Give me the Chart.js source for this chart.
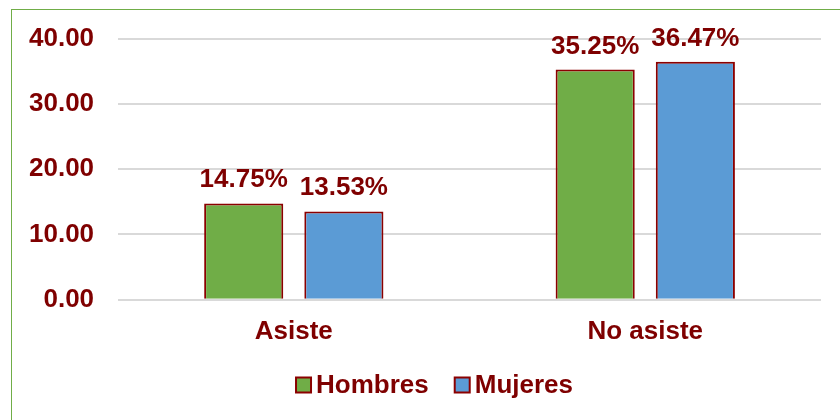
<!DOCTYPE html>
<html>
<head>
<meta charset="utf-8">
<script src="https://cdn.jsdelivr.net/npm/chart.js@4.4.1/dist/chart.umd.min.js"></script>
<style>
  html,body{margin:0;padding:0;background:#fff;overflow:hidden;width:840px;height:420px;}
  #frame{position:absolute;left:11px;top:9px;width:900px;height:500px;border-left:1px solid #70AD47;border-top:1px solid #70AD47;z-index:2;pointer-events:none;}
  #wrap{position:absolute;left:5px;top:-1px;width:853px;height:421px;z-index:1;}
</style>
</head>
<body>
<div id="frame"></div>
<div id="wrap"><canvas id="chart" width="853" height="421"></canvas></div>
<script>
const categories = ["Asiste", "No asiste"];
const hombres = [14.75, 35.25];
const mujeres = [13.53, 36.47];
const yTicks = [0, 10, 20, 30, 40];

const DARK_RED = "#7F0000";
const FONT = "'Liberation Sans', Arial, sans-serif";

// etiquetas de valor encima de cada barra
const valueLabels = {
  id: 'valueLabels',
  afterDatasetsDraw(chart){
    const ctx = chart.ctx;
    ctx.save();
    ctx.font = `bold 26px ${FONT}`;
    ctx.fillStyle = DARK_RED;
    ctx.textAlign = 'center';
    ctx.textBaseline = 'alphabetic';
    chart.data.datasets.forEach((ds, i) => {
      chart.getDatasetMeta(i).data.forEach((bar, j) => {
        ctx.fillText(ds.data[j].toFixed(2) + '%', bar.x, bar.y - 16);
      });
    });
    ctx.restore();
  }
};

// leyenda propia: cuadro pegado al texto, como en Excel
const excelLegend = {
  id: 'excelLegend',
  afterDraw(chart){
    const ctx = chart.ctx;
    const box = 15, gapText = 5, gapItem = 26;
    const cy = 386;
    ctx.save();
    ctx.font = `bold 26px ${FONT}`;
    const items = chart.data.datasets.map(ds => ({ds, w: ctx.measureText(ds.label).width}));
    const total = items.reduce((s,it)=>s + box + gapText + it.w, 0) + gapItem*(items.length-1);
    let x = chart.width/2 + 3 - total/2;
    items.forEach(it => {
      ctx.fillStyle = it.ds.backgroundColor;
      ctx.fillRect(x, cy - box/2, box, box);
      ctx.strokeStyle = it.ds.borderColor;
      ctx.lineWidth = 2;
      ctx.strokeRect(x, cy - box/2, box, box);
      ctx.fillStyle = DARK_RED;
      ctx.textAlign = 'left';
      ctx.textBaseline = 'middle';
      ctx.fillText(it.ds.label, x + box + gapText, cy + 1);
      x += box + gapText + it.w + gapItem;
    });
    ctx.restore();
  }
};

new Chart(document.getElementById('chart'), {
  type: 'bar',
  data: {
    labels: categories,
    datasets: [
      {label:'Hombres', data:hombres, backgroundColor:'#70AD47', borderColor:'#8B0000', borderWidth:2},
      {label:'Mujeres', data:mujeres, backgroundColor:'#5B9BD5', borderColor:'#8B0000', borderWidth:2}
    ]
  },
  options: {
    responsive:false,
    animation:false,
    layout:{ padding:{left:0, right:37, top:17, bottom:57} },
    datasets:{ bar:{ categoryPercentage:0.57, barPercentage:0.79 } },
    plugins:{
      legend:{ display:false },
      tooltip:{ enabled:false }
    },
    scales:{
      x:{
        grid:{ display:false, drawTicks:false },
        border:{ display:false },
        ticks:{ color:DARK_RED, font:{family:FONT, size:26, weight:'bold'}, padding:16 }
      },
      y:{
        min:0, max:40,
        afterBuildTicks:(axis)=>{ axis.ticks = yTicks.map(v=>({value:v})); },
        grid:{ color:'#D9D9D9', lineWidth:2, drawTicks:false },
        border:{ display:false },
        ticks:{ color:DARK_RED, font:{family:FONT, size:26, weight:'bold'}, padding:24,
          callback:(v)=>Number(v).toFixed(2) }
      }
    }
  },
  plugins:[valueLabels, excelLegend]
});
</script>
</body>
</html>
